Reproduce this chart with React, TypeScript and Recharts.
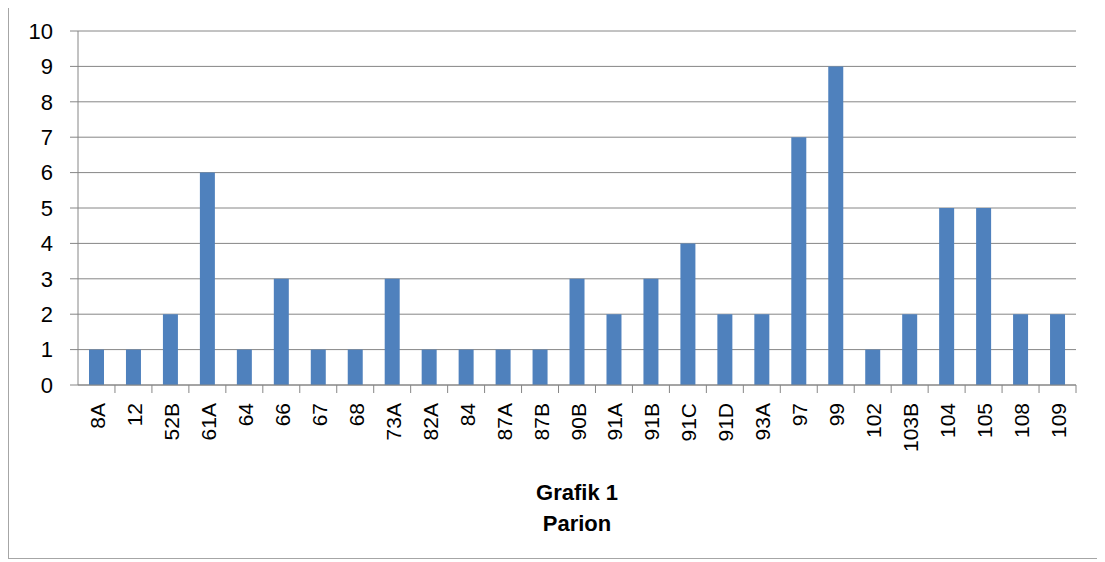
import { Bar, BarChart, CartesianGrid, XAxis, YAxis } from "recharts";

const categories = [
  "8A", "12", "52B", "61A", "64", "66", "67", "68", "73A", "82A", "84", "87A", "87B", "90B",
  "91A", "91B", "91C", "91D", "93A", "97", "99", "102", "103B", "104", "105", "108", "109",
];
const counts = [1, 1, 2, 6, 1, 3, 1, 1, 3, 1, 1, 1, 1, 3, 2, 3, 4, 2, 2, 7, 9, 1, 2, 5, 5, 2, 2];
const yTicks = [0, 1, 2, 3, 4, 5, 6, 7, 8, 9, 10];
const titleLines = ["Grafik 1", "Parion"];

const data = categories.map((name, i) => ({ name, value: counts[i] }));

const W = 1092;
const H = 557;
const left = 69;
const right = 25;
const band = (W - left - right) / categories.length;
const font = "'Liberation Sans', Arial, sans-serif";

function XTick(props: any) {
  const { x, y, payload } = props;
  return (
    <g>
      <line x1={x + band / 2} x2={x + band / 2} y1={y} y2={y + 8} stroke="#868686" />
      <text
        x={0}
        y={0}
        transform={`translate(${x + 1},${y + 18}) rotate(-90)`}
        textAnchor="end"
        dominantBaseline="central"
        fontSize={21}
        fontFamily={font}
        fill="#000"
      >
        {payload.value}
      </text>
    </g>
  );
}

export default function App() {
  return (
    <div
      style={{
        position: "relative",
        marginTop: -6,
        width: W,
        height: H,
        border: "1px solid #a6a6a6",
        boxSizing: "border-box",
        background: "#fff",
      }}
    >
      <BarChart
        width={W}
        height={H}
        data={data}
        margin={{ top: 28, right: right, bottom: 115, left: 0 }}
        barSize={15}
      >
        <CartesianGrid vertical={false} stroke="#868686" />
        <XAxis
          dataKey="name"
          interval={0}
          height={60}
          tickSize={0}
          tickMargin={0}
          stroke="#868686"
          tick={<XTick />}
        />
        <YAxis
          domain={[0, 10]}
          ticks={yTicks}
          width={left}
          tickSize={8}
          tickMargin={17}
          stroke="#868686"
          tick={{ fill: "#000", fontSize: 22, fontFamily: font }}
        />
        <Bar dataKey="value" fill="#4F81BD" isAnimationActive={false} />
      </BarChart>
      <div
        style={{
          position: "absolute",
          left: left,
          width: W - left - right,
          top: 474,
          textAlign: "center",
          fontFamily: font,
          fontWeight: "bold",
          fontSize: 22,
          lineHeight: "31px",
        }}
      >
        {titleLines.map((t) => (
          <div key={t}>{t}</div>
        ))}
      </div>
    </div>
  );
}
